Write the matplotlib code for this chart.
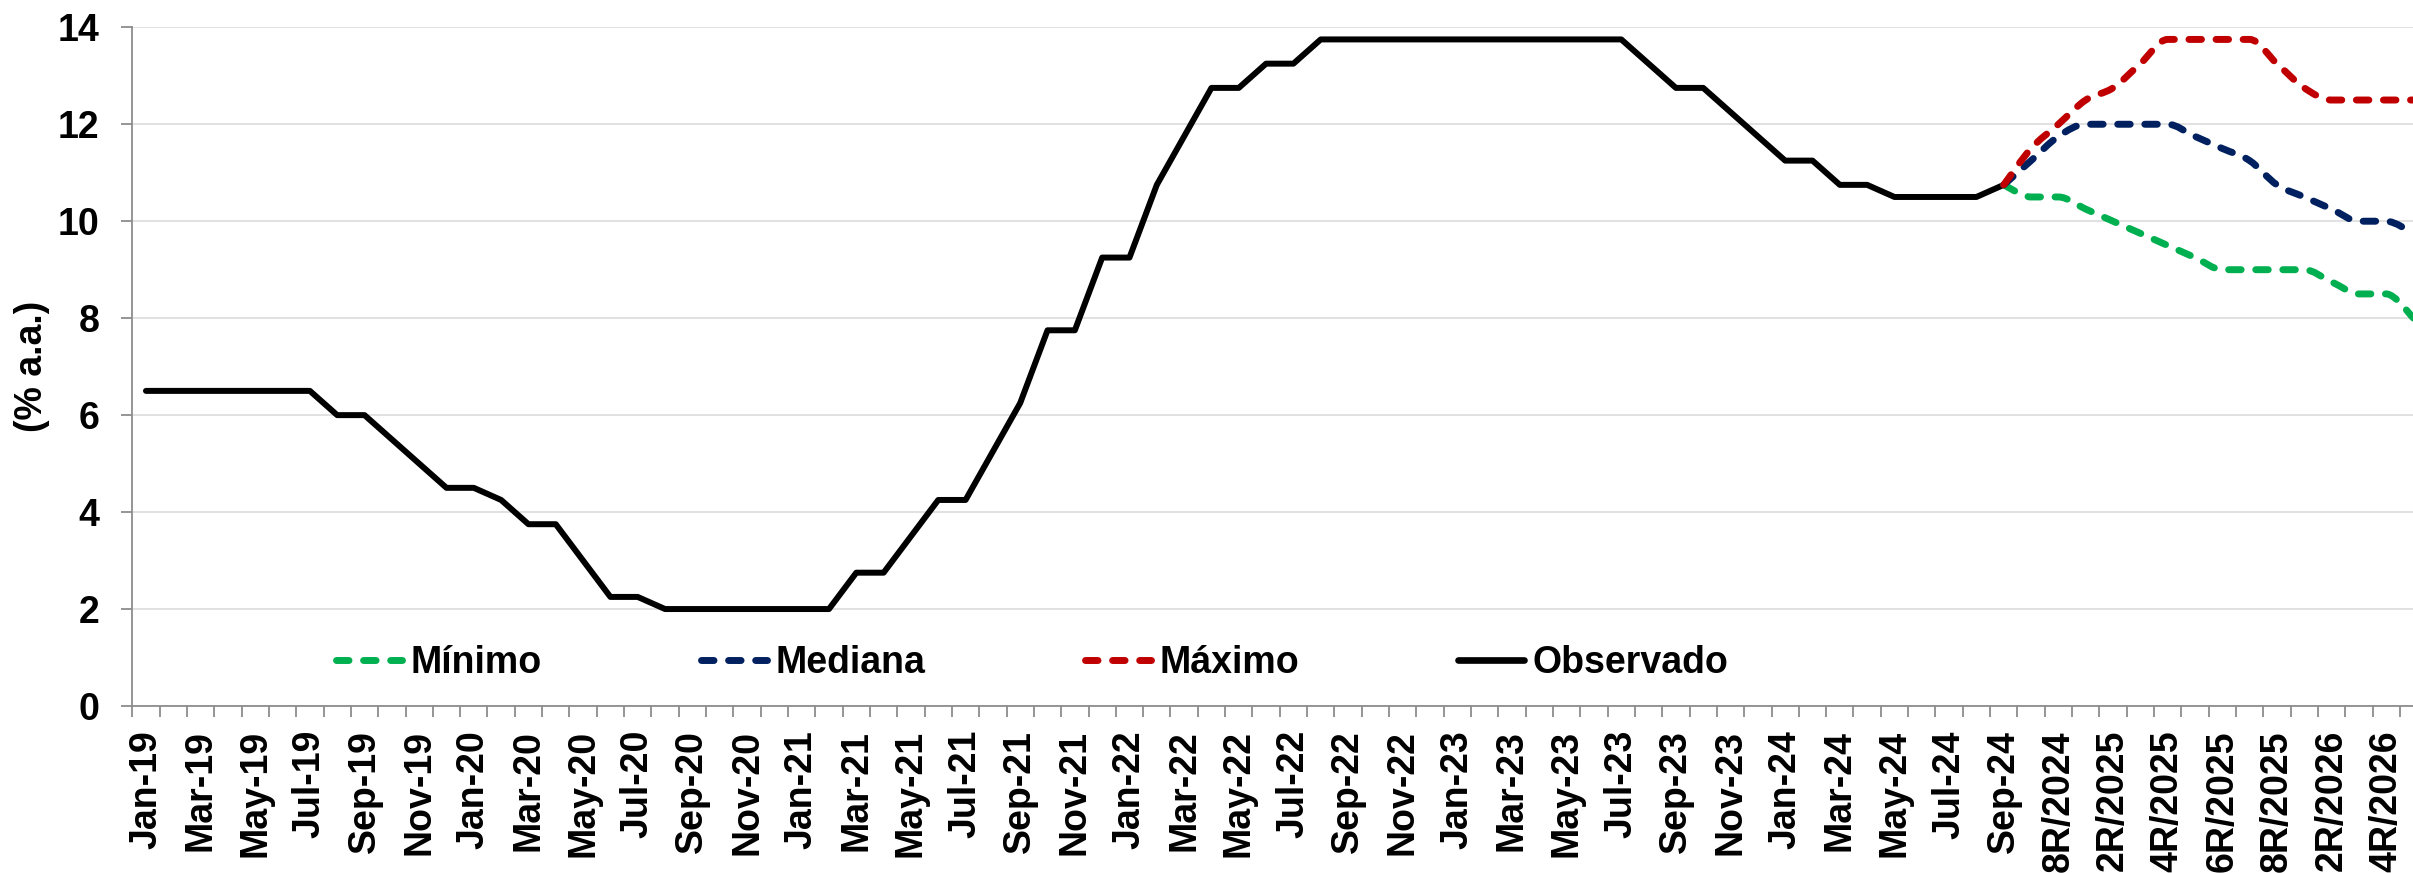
import numpy as np
import pandas as pd
import matplotlib
matplotlib.use("Agg")
import matplotlib.pyplot as plt
from matplotlib.path import Path
from matplotlib.patches import PathPatch
from matplotlib.lines import Line2D

# ---------------------------------------------------------------- data
# Monthly observed Selic rate (Jan-19 .. Sep-24) followed by Copom meetings
months = list(pd.date_range("2019-01-01", "2024-09-01", freq="MS").strftime("%b-%y"))
meetings = ["7R/2024", "8R/2024", "1R/2025", "2R/2025", "3R/2025", "4R/2025",
            "5R/2025", "6R/2025", "7R/2025", "8R/2025", "1R/2026", "2R/2026",
            "3R/2026", "4R/2026", "5R/2026"]
categories = months + meetings

observado = [6.5, 6.5, 6.5, 6.5, 6.5, 6.5, 6.5, 6.0, 6.0, 5.5, 5.0, 4.5,
             4.5, 4.25, 3.75, 3.75, 3.0, 2.25, 2.25, 2.0, 2.0, 2.0, 2.0, 2.0,
             2.0, 2.0, 2.75, 2.75, 3.5, 4.25, 4.25, 5.25, 6.25, 7.75, 7.75, 9.25,
             9.25, 10.75, 11.75, 12.75, 12.75, 13.25, 13.25, 13.75, 13.75, 13.75, 13.75, 13.75,
             13.75, 13.75, 13.75, 13.75, 13.75, 13.75, 13.75, 13.25, 12.75, 12.75, 12.25, 11.75,
             11.25, 11.25, 10.75, 10.75, 10.5, 10.5, 10.5, 10.5, 10.75]

# Focus expectations, starting from the last observed month (Sep-24)
minimo = [10.75, 10.5, 10.5, 10.25, 10.0, 9.75, 9.5, 9.25,
          9.0, 9.0, 9.0, 9.0, 8.75, 8.5, 8.5, 8.0]
mediana = [10.75, 11.25, 11.75, 12.0, 12.0, 12.0, 12.0, 11.75,
           11.5, 11.25, 10.75, 10.5, 10.25, 10.0, 10.0, 9.75]
maximo = [10.75, 11.5, 12.0, 12.5, 12.75, 13.25, 13.75, 13.75,
          13.75, 13.75, 13.25, 12.75, 12.5, 12.5, 12.5, 12.5]

# ---------------------------------------------------------------- style
plt.rcParams["font.family"] = ["Liberation Sans", "DejaVu Sans"]
plt.rcParams["font.weight"] = "bold"

FS = 27
GREEN, NAVY, RED = "#00B050", "#002060", "#C00000"
AXIS_GRAY = "#8C8C8C"
GRID_GRAY = "#D9D9D9"
DASH = (0, (1.8, 2.1))


def smooth_path(xs, ys):
    """Smoothed Bezier path through the points, flat at plateaus and turning points."""
    pts = np.column_stack([xs, ys]).astype(float)
    n = len(pts)
    tangents = np.zeros_like(pts)
    for i in range(n):
        prev_p = pts[i - 1] if i > 0 else pts[i]
        next_p = pts[i + 1] if i < n - 1 else pts[i]
        tangents[i] = (next_p - prev_p) / 2.0
        if 0 < i < n - 1:
            d_in = pts[i, 1] - pts[i - 1, 1]
            d_out = pts[i + 1, 1] - pts[i, 1]
            if d_in * d_out <= 0:
                tangents[i, 1] = 0.0
    verts = [pts[0]]
    codes = [Path.MOVETO]
    for i in range(n - 1):
        verts += [pts[i] + tangents[i] / 3.0, pts[i + 1] - tangents[i + 1] / 3.0, pts[i + 1]]
        codes += [Path.CURVE4] * 3
    return Path(verts, codes)


fig = plt.figure(figsize=(24.13, 8.73), dpi=100)
ax = fig.add_axes([132.3 / 2413, 1 - 706 / 873, 1 - 132.3 / 2413, (706 - 27.3) / 873])

x_obs = np.arange(len(observado))
start = len(observado) - 1
x_fc = np.arange(start, start + len(minimo))

ax.plot(x_obs, observado, color="black", lw=4.3, solid_joinstyle="round",
        solid_capstyle="round", zorder=3)

for vals, col, z in [(minimo, GREEN, 4), (mediana, NAVY, 5), (maximo, RED, 6)]:
    patch = PathPatch(smooth_path(x_fc, vals), fill=False, edgecolor=col,
                      lw=5, linestyle=DASH, zorder=z)
    patch.set_capstyle("round")
    patch.set_joinstyle("round")
    ax.add_patch(patch)

# ---------------------------------------------------------------- axes
ax.set_xlim(-0.5, 82.98)
ax.set_ylim(0, 14)

for side in ("top", "right"):
    ax.spines[side].set_visible(False)
for side in ("left", "bottom"):
    ax.spines[side].set_color(AXIS_GRAY)
    ax.spines[side].set_linewidth(1.3)

ax.set_yticks(np.arange(0, 15, 2))
ax.set_yticklabels([str(v) for v in range(0, 15, 2)], fontsize=FS, fontweight="bold")
ax.tick_params(axis="y", direction="out", length=8, width=1.3, color=AXIS_GRAY, pad=15.8)
ax.yaxis.grid(True, color=GRID_GRAY, lw=1.1)
ax.set_axisbelow(True)

ax.set_xticks(np.arange(-0.5, len(categories) - 0.5, 1))
ax.set_xticklabels([])
ax.tick_params(axis="x", which="major", direction="out", length=8, width=1.3, color=AXIS_GRAY)
ax.set_xticks(np.arange(0, len(categories), 2), minor=True)
ax.set_xticklabels(categories[::2], minor=True, rotation=90, fontsize=FS, fontweight="bold")
ax.tick_params(axis="x", which="minor", length=0, pad=17.3)

fig.text(32 / 2413, 1 - 366 / 873, "(% a.a.)", rotation=90, ha="center", va="center",
         fontsize=FS, fontweight="bold")

# ---------------------------------------------------------------- legend
handles = [
    Line2D([], [], color=GREEN, lw=5, linestyle=DASH, dash_capstyle="round"),
    Line2D([], [], color=NAVY, lw=5, linestyle=DASH, dash_capstyle="round"),
    Line2D([], [], color=RED, lw=5, linestyle=DASH, dash_capstyle="round"),
    Line2D([], [], color="black", lw=4.8, solid_capstyle="round"),
]
labels = ["Mínimo", "Mediana", "Máximo", "Observado"]
fig.legend(handles, labels, loc="center left", ncol=4,
           bbox_to_anchor=(335.5 / 2413, 1 - 663 / 873), bbox_transform=fig.transFigure,
           frameon=False, borderpad=0, borderaxespad=0,
           handlelength=1.76, handletextpad=0.23, columnspacing=4.25,
           prop={"size": FS, "weight": "bold"})

fig.savefig("out.png", dpi=100)
